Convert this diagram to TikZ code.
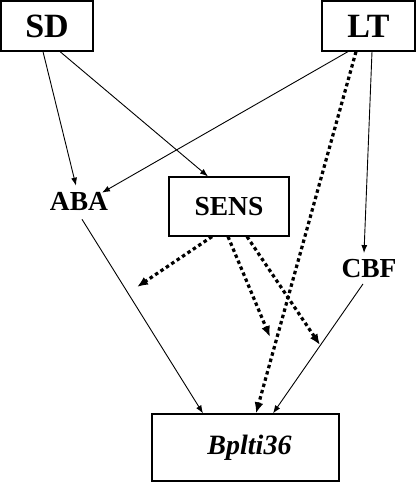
\documentclass[tikz,border=0pt]{standalone}
\usepackage{fontspec}
\setmainfont{Liberation Serif}
\usetikzlibrary{arrows.meta}

\tikzset{
  box/.style={draw, line width=1.2pt, inner sep=0pt},
  lbl/.style={inner sep=6pt},
  thin/.style={line width=0.9pt, -{Latex[length=8pt,width=6pt]}},
  dots/.style={line width=3.2pt, dash pattern=on 3.5pt off 3pt,
    -{Latex[length=11pt,width=9pt]}}
}

\begin{document}
\begin{tikzpicture}[x=1pt, y=-1pt]
      \useasboundingbox (0,0) rectangle (416,483);
      \fontsize{27.5}{30}\bfseries
      % factors
      \node[box, minimum width=92pt, minimum height=50pt, font=\fontsize{34}{36}\bfseries] (sd) at (47,26) {SD};
      \node[box, minimum width=93pt, minimum height=50pt, font=\fontsize{34}{36}\bfseries] (lt) at (368.5,26) {LT};
      \node[lbl] (aba) at (79,201) {ABA};
      \node[box, minimum width=120pt, minimum height=59pt] (sens) at (229,206.5) {SENS};
      \node[lbl] (cbf) at (369,268.5) {CBF};
      \node[box, minimum width=187pt, minimum height=67pt, font=\fontsize{28}{30}\bfseries\itshape] (bplti) at (245.5,447.5) {\hspace*{8pt}Bplti36};
      % free ends of the SENS arrows
      \coordinate (s1) at (137,287);
      \coordinate (s2) at (270,337);
      \coordinate (s3) at (320,345);
      % solid arrows
      \draw[thin] ([xshift=-4pt]sd.south) -- ([xshift=-3pt]aba.north);
      \draw[thin] ([xshift=13pt]sd.south) -- ([xshift=-21pt]sens.north);
      \draw[thin] ([xshift=-20.5pt]lt.south) -- ([shift={(23,7)}]aba.north);
      \draw[thin] ([xshift=3.5pt]lt.south) -- ([xshift=-5pt]cbf.north);
      \draw[thin] ([shift={(3,3)}]aba.south) -- ([xshift=-42.5pt]bplti.north);
      \draw[thin] ([xshift=-6pt]cbf.south) -- ([xshift=27.5pt]bplti.north);
      % dotted arrows
      \draw[dots] ([xshift=-12.5pt]lt.south) -- ([xshift=10.5pt]bplti.north);
      \draw[dots] ([xshift=-17pt]sens.south) -- (s1);
      \draw[dots] ([xshift=-1pt]sens.south) -- (s2);
      \draw[dots] ([xshift=18pt]sens.south) -- (s3);
    \end{tikzpicture}
\end{document}
